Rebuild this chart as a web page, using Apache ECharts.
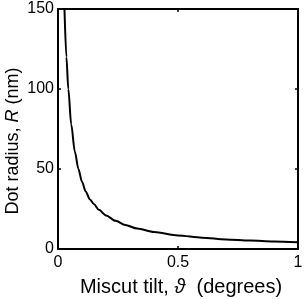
<!DOCTYPE html>
<html>
<head>
<meta charset="utf-8">
<script src="https://cdn.jsdelivr.net/npm/echarts@6/dist/echarts.min.js"></script>
<style>html,body{margin:0;padding:0;background:#fff}#c{width:304px;height:299px}</style>
</head>
<body>
<div id="c"></div>
<script>
// Data
const tiltDeg = [0.027, 0.035, 0.043, 0.055, 0.07, 0.085, 0.1, 0.115, 0.133, 0.15, 0.17, 0.2, 0.24, 0.28, 0.33, 0.4, 0.5, 0.6, 0.7, 0.8, 0.9, 1.0];
const radiusNm = [150, 120, 100, 78, 61, 50, 42, 36, 31, 28, 24.5, 21, 17.6, 15, 12.8, 10.6, 8.5, 7.1, 6.0, 5.3, 4.7, 4.2];
const xTicks = [0, 0.5, 1];
const yTicks = [0, 50, 100, 150];

const FONT = 'Liberation Sans, Arial, sans-serif';
const chart = echarts.init(document.getElementById('c'), null, {renderer: 'canvas'});
const tickStyle = {show: true, inside: true, length: 3, lineStyle: {color: '#000', width: 1.5}};
const axisLineStyle = {show: true, onZero: false, lineStyle: {color: '#000', width: 2}};
chart.setOption({
  animation: false,
  grid: {left: 58, right: 6, top: 9, bottom: 50, show: false, containLabel: false, outerBoundsMode: 'none'},
  xAxis: [{
    type: 'value', min: xTicks[0], max: xTicks[xTicks.length - 1], interval: 0.5,
    axisLine: axisLineStyle, axisTick: tickStyle, splitLine: {show: false},
    axisLabel: {color: '#000', fontSize: 16, fontFamily: FONT, margin: 6,
      formatter: v => String(v)},
    name: '{n|Miscut tilt, }{i|ϑ}{n|  (degrees)}',
    nameLocation: 'middle', nameGap: 28, nameMoveOverlap: false,
    nameTextStyle: {padding: [0, 0, 0, 6], rich: {
      n: {fontSize: 20, fontFamily: FONT, color: '#000'},
      i: {fontSize: 20, fontFamily: FONT, fontStyle: 'italic', color: '#000'}
    }}
  }, {
    type: 'value', position: 'top', min: 0, max: 1, interval: 0.5,
    axisLine: axisLineStyle, axisTick: tickStyle, axisLabel: {show: false}, splitLine: {show: false}
  }],
  yAxis: [{
    type: 'value', min: yTicks[0], max: yTicks[yTicks.length - 1], interval: 50,
    axisLine: axisLineStyle, axisTick: tickStyle, splitLine: {show: false},
    axisLabel: {color: '#000', fontSize: 16, fontFamily: FONT, margin: 4},
    name: '{n|Dot radius, }{i|R}{n| (nm)}',
    nameLocation: 'middle', nameGap: 36, nameRotate: 90, nameMoveOverlap: false,
    nameTextStyle: {padding: [0, 24, 0, 0], rich: {
      n: {fontSize: 18, fontFamily: FONT, color: '#000'},
      i: {fontSize: 18, fontFamily: FONT, fontStyle: 'italic', color: '#000'}
    }}
  }, {
    type: 'value', position: 'right', min: 0, max: 150, interval: 50,
    axisLine: axisLineStyle, axisTick: tickStyle, axisLabel: {show: false}, splitLine: {show: false}
  }],
  series: [{
    type: 'line', smooth: 0.3, smoothMonotone: 'x', showSymbol: false, clip: true,
    data: tiltDeg.map((t, i) => [t, radiusNm[i]]),
    lineStyle: {color: '#000', width: 2}
  }]
});
</script>
</body>
</html>
